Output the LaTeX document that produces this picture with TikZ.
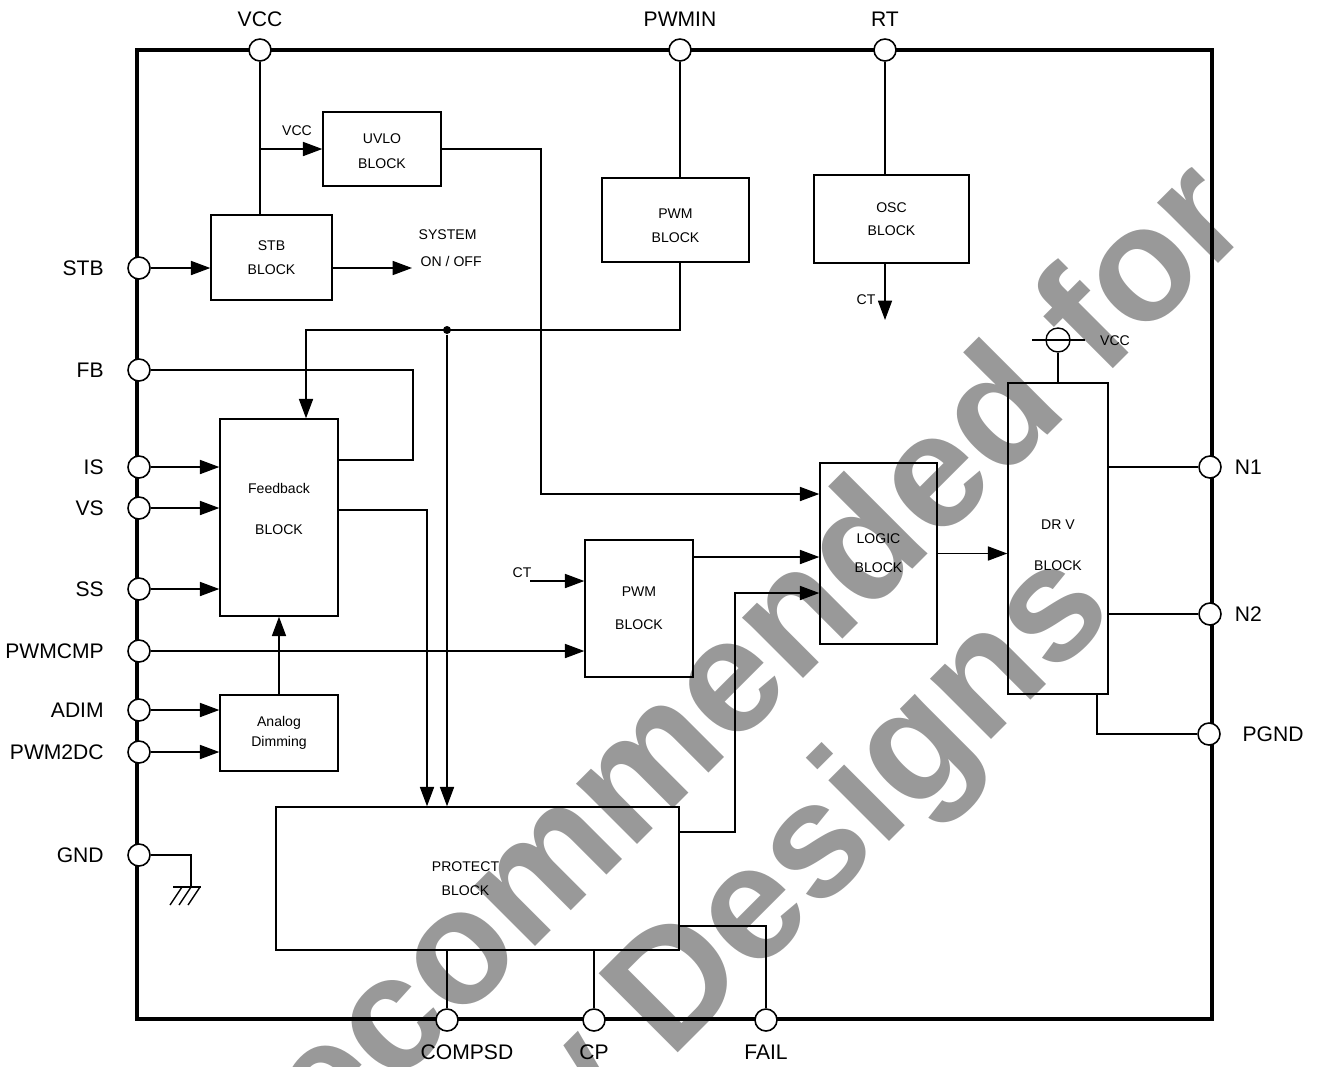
\documentclass[tikz,border=0pt]{standalone}
\usepackage{fontspec}
\setmainfont{Liberation Sans}
\usetikzlibrary{arrows.meta, positioning, calc}
\definecolor{wmgray}{RGB}{153,153,153}
\tikzset{
  blk/.style={draw, line width=0.8pt, align=center, inner sep=0, font=\fontsize{8}{14}\selectfont},
  sz/.style 2 args={minimum width=#1*0.02cm, minimum height=#2*0.02cm},
  pinc/.style={circle, draw, fill=white, line width=0.9pt, minimum size=0.44cm, inner sep=0},
  plab/.style={font=\fontsize{12}{14}\selectfont, inner sep=0},
  txt/.style={font=\fontsize{8}{10}\selectfont, inner sep=0},
  arr/.style={-{Triangle[length=11pt, width=8pt]}},
  wmark/.style={text=wmgray, font=\fontsize{92.5}{110}\selectfont\bfseries, inner sep=0, rotate=45, anchor=base east},
}

\begin{document}
\begin{tikzpicture}[x=0.02cm, y=-0.02cm, line width=0.8pt]
  \useasboundingbox (0,0) rectangle (1317,1066);

  % watermark behind everything
  \node[wmark] (wm1) at (1256,226) {Not Recommended for};
  \node[wmark] (wm2) at (1118,613) {New Designs};

  % package outline
  \draw[line width=2.3pt] (137,50) rectangle (1212,1019);

  % pins
  \foreach \name/\x/\lab in {vcc/260/VCC, pwmin/680/PWMIN, rt/885/RT}
    \node[pinc, label={[plab, label distance=6pt]above:\lab}] (\name) at (\x,50) {};
  \foreach \name/\y/\lab in {stb/268/STB, fb/370/FB, is/467/IS, vs/508/VS, ss/589/SS,
                             pwmcmp/651/PWMCMP, adim/710/ADIM, pwm2dc/752/PWM2DC, gnd/855/GND}
    \node[pinc, label={[plab, label distance=13pt]left:\lab}] (\name) at (139,\y) {};
  \foreach \name/\y/\lab in {n1/467/N1, n2/614/N2}
    \node[pinc, label={[plab, label distance=7pt]right:\lab}] (\name) at (1210,\y) {};
  \node[pinc, label={[plab, label distance=12pt]right:PGND}] (pgnd) at (1209,734) {};
  \node[pinc, label={[plab, label distance=7pt, xshift=0.4cm]below:COMPSD}] (compsd) at (447,1020) {};
  \foreach \name/\x/\lab in {cp/594/CP, fail/766/FAIL}
    \node[pinc, label={[plab, label distance=7pt]below:\lab}] (\name) at (\x,1020) {};

  % blocks
  \node[blk, sz={118}{74}] (uvlo) at (382,149) {\\[-6pt]UVLO\\BLOCK};
  \node[blk, sz={121}{85}] (stbb) at (271.5,257.5) {STB\\BLOCK};
  \node[blk, sz={147}{84}] (pwma) at (675.5,220) {\\[-2pt]PWM\\BLOCK};
  \node[blk, sz={155}{88}] (osc) at (891.5,219) {OSC\\[-1pt]BLOCK};
  \node[blk, sz={118}{197}] (fbk) at (279,517.5) {Feedback\\[9pt]BLOCK\\[-4pt]};
  \node[blk, sz={118}{76}] (adb) at (279,733) {Analog\\[-3pt]Dimming};
  \node[blk, sz={108}{137}] (pwmb) at (639,608.5) {PWM\\[5pt]BLOCK};
  \node[blk, sz={117}{181}] (logic) at (878.5,553.5) {LOGIC\\[2.5pt]BLOCK};
  \node[blk, sz={100}{311}] (drv) at (1058,538.5) {\\[-1pt]DR V\\[9pt]BLOCK};
  \node[blk, sz={403}{143}] (prot) at (477.5,878.5) {PROTECT\hspace*{0.48cm}\\BLOCK\hspace*{0.48cm}};

  % small labels
  \node[txt] (lvcc1) at (297,131) {VCC};
  \node[txt, anchor=west] (lsys) at (418,235) {SYSTEM};
  \node[txt, anchor=west] (lonoff) at (420,261) {ON / OFF};
  \node[txt] (lct1) at (866,300) {CT};
  \node[txt] (lct2) at (522,573) {CT};
  \node[txt] (lvcc2) at (1115,341) {VCC};

  \node[circle, draw, minimum size=0.48cm, inner sep=0] (dvcc) at (1058,340) {};
  \node[circle, fill, minimum size=0.16cm, inner sep=0] (jp) at (447,330) {};
  \coordinate (sys) at (412,268);
  \coordinate (ctout) at (885,320);
  \coordinate (ctin) at (530,581);

  % top side
  \draw (vcc) -- (vcc |- stbb.north);
  \draw[arr] (vcc |- uvlo.west) -- (uvlo.west);
  \draw[arr] (stb) -- (stb -| stbb.west);
  \draw[arr] (stbb.east |- sys) -- (sys);
  \draw[arr] (uvlo.east) -| (541,494) -- (logic.west |- 0,494);
  \draw (pwmin) -- (pwmin |- pwma.north);
  \draw[arr] (pwma.south -| pwmin) |- (306,330) -- (fbk.north -| 306,0);
  \draw (rt) -- (rt |- osc.north);
  \draw[arr] (rt |- osc.south) -- (ctout);
  \draw[arr] (jp) -- (jp |- prot.north);

  % left side
  \draw (fb) -| (413,460) -- (fbk.east |- 0,460);
  \foreach \p in {is,vs,ss}
    \draw[arr] (\p) -- (\p -| fbk.west);
  \draw[arr] (fbk.east |- 0,510) -| (prot.north -| 427,0);
  \draw[arr] (pwmcmp) -- (pwmcmp -| pwmb.west);
  \foreach \p in {adim,pwm2dc}
    \draw[arr] (\p) -- (\p -| adb.west);
  \draw[arr] (adb.north) -- (fbk.south);
  \draw (gnd) -| (191,887);
  \draw (173,887) -- (201,887);
  \foreach \x in {182,191,200}
    \draw (\x,887) -- ++(-12,18);

  % middle and right side
  \draw[arr] (ctin) -- (ctin -| pwmb.west);
  \draw[arr] (pwmb.east |- 0,557) -- (logic.west |- 0,557);
  \draw[arr] (prot.east |- 0,832) -| (735,593) -- (logic.west |- 0,593);
  \draw[arr] (logic.east) -- (logic.east -| drv.west);
  \draw (drv.north) -- (dvcc);
  \draw ($(dvcc)+(-26,0)$) -- ($(dvcc)+(27,0)$);
  \draw (drv.east |- n1) -- (n1);
  \draw (drv.east |- n2) -- (n2);
  \draw (drv.south -| 1097,0) |- (pgnd);

  % bottom side
  \draw (prot.south -| compsd) -- (compsd);
  \draw (prot.south -| cp) -- (cp);
  \draw (prot.east |- 0,926) -| (fail);
\end{tikzpicture}
\end{document}
